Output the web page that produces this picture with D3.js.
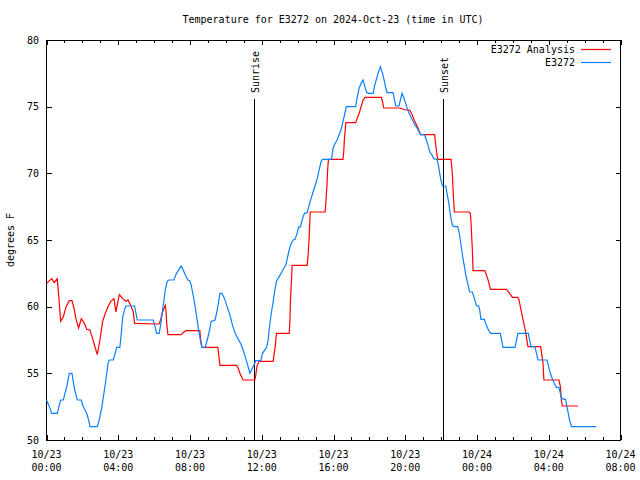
<!DOCTYPE html>
<html>
<head>
<meta charset="utf-8">
<script src="https://cdn.jsdelivr.net/npm/d3@7"></script>
<style>
  html, body { margin: 0; padding: 0; background: #fff; }
  svg { display: block; }
  text { font-family: "DejaVu Sans Mono", "Liberation Mono", monospace; font-size: 10px; fill: #000; }
</style>
</head>
<body>
<svg id="chart" width="640" height="480"></svg>
<script>
const titleText = "Temperature for E3272 on 2024-Oct-23 (time in UTC)";
const yLabelText = "degrees F";
const seriesNames = ["E3272 Analysis", "E3272"];
const seriesColors = ["#ff0000", "#0a80ff"];

// hours since 2024-10-23 00:00 UTC
const analysisHours = [0,0.29,0.43,0.60,0.70,0.79,0.94,1.09,1.27,1.42,1.53,1.64,1.79,1.94,2.11,2.24,2.42,2.57,2.72,2.83,2.98,3.13,3.28,3.43,3.58,3.76,3.87,3.94,4.06,4.25,4.43,4.54,4.69,4.84,4.91,6.28,6.36,6.47,6.62,6.66,6.70,6.77,7.51,7.62,7.77,8.55,8.59,8.66,9.55,9.67,10.60,10.71,10.78,10.96,11.62,11.67,11.74,11.86,12.64,12.67,12.75,12.82,13.53,13.57,13.60,13.66,13.69,14.53,14.58,14.64,14.70,15.53,15.57,15.63,15.68,15.72,16.53,16.57,16.61,16.69,17.24,17.31,17.43,17.56,17.65,17.76,18.67,18.73,18.80,19.69,20.03,20.25,20.35,20.53,20.71,20.85,21.64,21.70,21.77,21.81,22.55,22.59,22.63,22.66,22.70,22.74,23.55,23.63,23.67,23.74,23.78,24.43,24.52,24.64,24.75,25.64,25.82,25.97,26.28,26.34,26.53,26.71,26.84,27.55,27.60,27.68,27.73,28.57,28.65,28.70,28.76,29.63];
const analysisTemps = [61.75,62.1,61.8,62.1,60.5,58.9,59.25,60.0,60.45,60.45,59.9,59.1,58.4,59.1,58.75,58.3,58.25,57.6,56.9,56.4,57.5,58.9,59.5,60.0,60.4,60.6,59.6,60.1,60.9,60.6,60.4,60.5,60.1,59.6,58.75,58.7,59.0,59.6,60.1,59.75,58.75,57.9,57.9,58.05,58.2,58.2,57.6,56.95,56.95,55.6,55.6,55.3,55.0,54.5,54.5,54.9,55.6,55.9,55.9,56.25,57.0,58.0,58.0,58.9,60.5,62.0,63.1,63.1,63.75,65.1,67.1,67.1,67.75,69.0,70.4,71.05,71.05,71.6,72.6,73.8,73.8,74.1,74.5,75.1,75.5,75.7,75.7,75.4,74.9,74.9,74.75,74.75,74.5,73.9,73.4,72.9,72.9,72.1,71.4,71.05,71.05,70.5,69.9,69.0,67.9,67.1,67.1,67.0,66.25,64.25,62.7,62.7,62.4,61.9,61.3,61.3,61.0,60.7,60.7,60.5,59.25,58.1,57.0,57.0,56.5,55.75,54.5,54.5,54.0,53.0,52.55,52.55];

const obsHours = [0,0.16,0.29,0.60,0.71,0.79,0.94,1.05,1.13,1.27,1.42,1.49,1.60,1.72,1.94,2.05,2.24,2.35,2.42,2.83,2.94,3.09,3.20,3.31,3.43,3.50,3.72,3.83,3.91,4.09,4.17,4.25,4.36,4.43,4.91,4.99,5.06,5.95,6.03,6.14,6.28,6.36,6.47,6.55,6.62,6.73,6.81,7.10,7.21,7.34,7.51,7.62,7.77,7.88,7.99,8.07,8.14,8.26,8.37,8.48,8.59,8.66,8.85,8.96,9.07,9.18,9.40,9.52,9.67,9.78,9.93,10.07,10.22,10.37,10.52,10.67,10.82,10.96,11.11,11.26,11.34,11.45,11.56,11.67,11.95,12.04,12.27,12.36,12.41,12.49,12.56,12.64,12.73,12.82,12.97,13.12,13.23,13.34,13.42,13.53,13.64,13.75,13.86,13.97,14.05,14.16,14.23,14.31,14.38,14.53,14.64,14.75,14.86,14.97,15.09,15.20,15.31,15.39,15.89,15.98,16.07,16.20,16.31,16.42,16.53,16.65,16.72,17.24,17.28,17.35,17.43,17.54,17.65,17.73,17.84,17.95,18.21,18.28,18.40,18.51,18.62,18.73,18.84,18.91,18.99,19.32,19.47,19.65,19.82,19.99,20.10,20.25,20.40,20.55,20.66,20.77,20.88,21.07,21.18,21.29,21.37,21.48,21.59,21.77,21.85,21.92,21.99,22.07,22.26,22.33,22.41,22.48,22.55,22.63,22.70,22.92,23.00,23.07,23.15,23.22,23.30,23.37,23.48,23.59,23.74,23.82,23.97,24.08,24.15,24.22,24.41,24.52,24.64,24.75,25.30,25.45,26.12,26.28,26.86,27.01,27.23,27.40,27.90,28.09,28.20,28.31,28.42,28.57,28.72,28.94,29.01,29.09,29.16,29.27,30.65];
const obsTemps = [53.0,52.5,52.0,52.0,52.6,53.0,53.0,53.6,54.0,55.0,55.0,54.4,53.6,53.0,53.0,52.5,52.0,51.5,51.0,51.0,51.5,52.5,53.5,54.5,55.75,56.0,56.0,56.5,56.95,56.95,58.0,59.25,59.8,60.05,60.05,59.5,59.0,59.0,58.6,58.0,58.0,58.6,59.75,60.5,61.25,61.9,62.0,62.0,62.4,62.7,63.05,62.75,62.3,62.0,61.95,61.6,61.1,60.25,59.25,58.25,57.4,56.95,56.95,57.5,58.1,58.9,59.0,59.75,61.0,61.0,60.6,60.0,59.4,58.6,58.0,57.6,57.25,56.75,56.1,55.4,55.0,55.3,55.6,55.95,55.95,56.5,56.95,57.5,58.25,59.1,59.75,60.4,61.25,61.9,62.25,62.6,62.9,63.1,63.6,64.25,64.75,65.0,65.05,65.5,65.95,66.0,66.4,66.75,67.0,67.05,67.6,68.1,68.6,69.05,69.6,70.25,70.9,71.05,71.05,71.9,72.2,72.5,72.9,73.25,73.9,74.6,75.0,75.0,75.4,75.9,76.4,76.75,77.0,76.6,76.1,76.0,76.0,76.5,77.1,77.6,78.0,77.5,76.9,76.4,76.05,76.05,75.05,75.05,76.0,75.4,74.9,74.4,74.0,73.6,73.4,73.1,72.9,72.9,72.5,72.0,71.6,71.4,71.1,71.05,70.6,70.0,69.5,69.05,69.05,68.5,67.9,67.25,66.6,66.1,66.0,66.0,65.6,65.0,64.25,63.6,63.0,62.4,61.75,61.1,61.1,60.75,60.07,60.07,59.75,59.05,59.05,58.6,58.25,58.0,58.0,56.95,56.95,58.0,58.0,57.0,57.0,56.0,56.0,55.0,54.6,54.25,53.95,53.95,53.1,53.05,52.5,52.0,51.5,51.0,51.0];

const sunEventNames = ["Sunrise", "Sunset"];
const sunEventHours = [11.57, 22.10];

const yTicks = [50, 55, 60, 65, 70, 75, 80];
const xMajorHours = [0, 4, 8, 12, 16, 20, 24, 28, 32];

const base = Date.UTC(2024, 9, 23);
const toDate = h => new Date(base + h * 3600000);

const svg = d3.select("#chart");
const L = 46.5, R = 620.5, T = 40, B = 440;

const x = d3.scaleUtc().domain([toDate(0), toDate(32)]).range([L, R]);
const y = d3.scaleLinear().domain([50, 80]).range([B, T]);

const majorDates = xMajorHours.map(toDate);
const minorDates = d3.range(0, 33).filter(h => h % 4 !== 0).map(toDate);

function styleAxis(g) {
  g.select(".domain").remove();
  g.selectAll("line").attr("stroke", "#000").attr("stroke-width", 1).attr("shape-rendering", "crispEdges");
  g.selectAll("text").remove();
}

// ticks (inward)
svg.append("g").attr("transform", `translate(0,${B})`)
  .call(d3.axisBottom(x).tickValues(majorDates).tickSize(-5)).call(styleAxis);
svg.append("g").attr("transform", `translate(0,${B})`)
  .call(d3.axisBottom(x).tickValues(minorDates).tickSize(-3)).call(styleAxis);
svg.append("g").attr("transform", `translate(0,${T})`)
  .call(d3.axisTop(x).tickValues(majorDates).tickSize(-5)).call(styleAxis);
svg.append("g").attr("transform", `translate(0,${T})`)
  .call(d3.axisTop(x).tickValues(minorDates).tickSize(-3)).call(styleAxis);
svg.append("g").attr("transform", `translate(${L},0)`)
  .call(d3.axisLeft(y).tickValues(yTicks).tickSize(-5)).call(styleAxis);
svg.append("g").attr("transform", `translate(${R},0)`)
  .call(d3.axisRight(y).tickValues(yTicks).tickSize(-5)).call(styleAxis);

// frame
svg.append("rect").attr("x", L).attr("y", T).attr("width", R - L).attr("height", B - T)
  .attr("fill", "none").attr("stroke", "#000").attr("stroke-width", 1).attr("shape-rendering", "crispEdges");

// y tick labels
svg.append("g").selectAll("text").data(yTicks).join("text")
  .attr("x", 39).attr("y", d => y(d) + 3.5).attr("text-anchor", "end").text(d => d);

// x tick labels
const fmtDate = d3.utcFormat("%m/%d"), fmtTime = d3.utcFormat("%H:%M");
const xl = svg.append("g").selectAll("text").data(majorDates).join("text")
  .attr("text-anchor", "middle");
xl.append("tspan").attr("x", d => x(d)).attr("y", 458).text(d => fmtDate(d));
xl.append("tspan").attr("x", d => x(d)).attr("y", 470.5).text(d => fmtTime(d));

// title + y label
svg.append("text").attr("x", 333).attr("y", 22.5).attr("text-anchor", "middle").text(titleText);
svg.append("text").attr("transform", "translate(13.5,240) rotate(-90)").attr("text-anchor", "middle").text(yLabelText);

// sunrise / sunset
sunEventHours.forEach((h, i) => {
  const xx = Math.round(x(toDate(h))) + 0.5;
  svg.append("line").attr("x1", xx).attr("x2", xx).attr("y1", 99).attr("y2", B)
    .attr("stroke", "#000").attr("stroke-width", 1);
  svg.append("text").attr("transform", `translate(${xx + 4},93) rotate(-90)`)
    .attr("text-anchor", "start").text(sunEventNames[i]);
});

// series
const line = d3.line().x(d => x(toDate(d[0]))).y(d => y(d[1]));
const analysisData = d3.zip(analysisHours, analysisTemps);
const obsData = d3.zip(obsHours, obsTemps);
svg.append("path").datum(analysisData).attr("d", line)
  .attr("fill", "none").attr("stroke", seriesColors[0]).attr("stroke-width", 1.2);
svg.append("path").datum(obsData).attr("d", line)
  .attr("fill", "none").attr("stroke", seriesColors[1]).attr("stroke-width", 1.2);

// legend
seriesNames.forEach((name, i) => {
  const ly = 49.5 + i * 13;
  svg.append("text").attr("x", 575).attr("y", ly + 3.5).attr("text-anchor", "end").text(name);
  svg.append("line").attr("x1", 581).attr("x2", 611).attr("y1", ly).attr("y2", ly)
    .attr("stroke", seriesColors[i]).attr("stroke-width", 1.2);
});
</script>
</body>
</html>
